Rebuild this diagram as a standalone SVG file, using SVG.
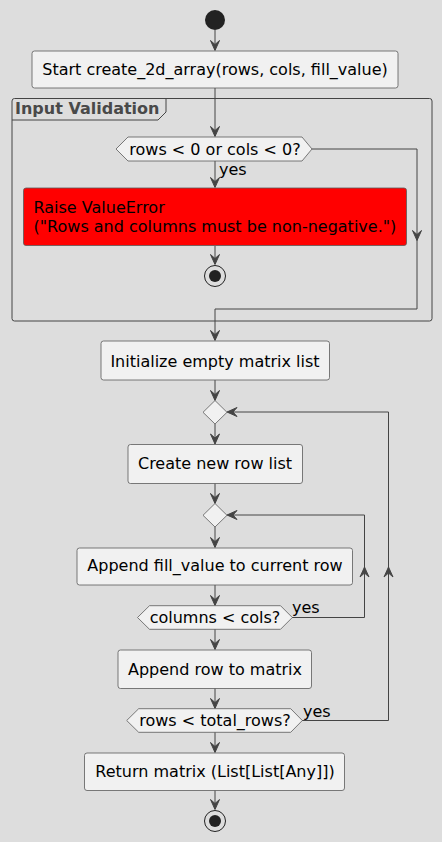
<svg xmlns="http://www.w3.org/2000/svg" width="442" height="842" viewBox="0 0 442 842">
<style>
.bg{fill:#DDDDDD}
.box{fill:#F1F1F1;stroke:#5A5A5A;stroke-width:0.8}
.t{font-family:"DejaVu Sans","Liberation Sans",sans-serif;font-size:16px;fill:#000000}
.c{text-anchor:middle}
.ln{fill:none;stroke:#444444;stroke-width:1}
.ah{fill:#444444;stroke:#444444;stroke-width:1}
.grp{fill:none;stroke:#444444;stroke-width:1}
.gt{font-family:"DejaVu Sans","Liberation Sans",sans-serif;font-size:16px;font-weight:bold;fill:#494949}
</style>
<defs>
<path id="ah" d="M0,0 L-4.5,-10 L0,-6 L4.5,-10 Z"/>
</defs>
<rect class="bg" x="0" y="0" width="442" height="842"/>

<g id="group-input-validation">
<rect class="grp" x="12" y="98.5" width="420" height="222.5" rx="2.5"/>
<path class="grp" d="M12,120 L158,120 L166,112 L166,98.5"/>
<text class="gt" x="15" y="114">Input Validation</text>
</g>

<g id="connectors">
<path class="ln" d="M215,30 V50"/>
<use href="#ah" class="ah" x="215" y="50.5"/>
<path class="ln" d="M215,88 V136"/>
<use href="#ah" class="ah" x="215" y="136.5"/>
<path class="ln" d="M215,161 V187"/>
<use href="#ah" class="ah" x="215" y="187.5"/>
<text class="t" x="219" y="175">yes</text>
<path class="ln" d="M215,246 V264"/>
<use href="#ah" class="ah" x="215" y="264.5"/>
<path class="ln" d="M312,149 H417 V309 H215 V340"/>
<use href="#ah" class="ah" x="417" y="240.5"/>
<use href="#ah" class="ah" x="215" y="340.5"/>
<path class="ln" d="M215,380 V400"/>
<use href="#ah" class="ah" x="215" y="400.5"/>
<path class="ln" d="M215,424 V444"/>
<use href="#ah" class="ah" x="215" y="444"/>
<path class="ln" d="M215,483 V503"/>
<use href="#ah" class="ah" x="215" y="503.5"/>
<path class="ln" d="M215,527 V547"/>
<use href="#ah" class="ah" x="215" y="547.5"/>
<path class="ln" d="M215,585 V605"/>
<use href="#ah" class="ah" x="215" y="605.5"/>
<path class="ln" d="M215,629 V649"/>
<use href="#ah" class="ah" x="215" y="649.5"/>
<path class="ln" d="M215,688 V708"/>
<use href="#ah" class="ah" x="215" y="708.5"/>
<path class="ln" d="M215,732 V752"/>
<use href="#ah" class="ah" x="215" y="752.5"/>
<path class="ln" d="M215,790 V809"/>
<use href="#ah" class="ah" x="215" y="809.5"/>
<path class="ln" d="M292,617.5 H364.5 V515 H228"/>
<use href="#ah" class="ah" transform="translate(227,515) rotate(90)"/>
<use href="#ah" class="ah" transform="translate(364.5,567) rotate(180)"/>
<text class="t" x="292" y="613">yes</text>
<path class="ln" d="M302,720.5 H388.5 V412 H228"/>
<use href="#ah" class="ah" transform="translate(227,412) rotate(90)"/>
<use href="#ah" class="ah" transform="translate(388.5,567) rotate(180)"/>
<text class="t" x="303" y="716.5">yes</text>
</g>

<g id="start">
<circle cx="215" cy="20" r="10" fill="#222222"/>
</g>

<g id="n-start-fn">
<rect class="box" x="32" y="51" width="366" height="37" rx="2.5"/>
<text class="t c" x="215" y="75">Start create_2d_array(rows, cols, fill_value)</text>
</g>

<g id="d-negative">
<polygon class="box" points="116,149 128,137 302,137 312,149 302,161 128,161"/>
<text class="t c" x="215" y="155">rows &lt; 0 or cols &lt; 0?</text>
</g>

<g id="n-raise">
<rect x="23.5" y="188" width="383" height="57.5" rx="2.5" fill="#FF0000" stroke="#5A5A5A" stroke-width="0.8"/>
<text class="t" x="33.5" y="212.5">Raise ValueError</text>
<text class="t" x="33.5" y="231.5">("Rows and columns must be non-negative.")</text>
</g>

<g id="stop-error">
<circle cx="215" cy="276" r="10.5" fill="none" stroke="#222222" stroke-width="1"/>
<circle cx="215" cy="276" r="6" fill="#222222"/>
</g>

<g id="n-init">
<rect class="box" x="101" y="341" width="228.5" height="39" rx="2.5"/>
<text class="t c" x="215" y="366.5">Initialize empty matrix list</text>
</g>

<g id="merge-rows">
<polygon class="box" points="215,400.5 227,412.3 215,424 203,412.3"/>
</g>

<g id="n-newrow">
<rect class="box" x="128" y="444.5" width="174.5" height="39" rx="2.5"/>
<text class="t c" x="215" y="468.5">Create new row list</text>
</g>

<g id="merge-cols">
<polygon class="box" points="215,503.5 227,515.3 215,527 203,515.3"/>
</g>

<g id="n-append-fill">
<rect class="box" x="77" y="548" width="275.5" height="37" rx="2.5"/>
<text class="t c" x="215" y="571">Append fill_value to current row</text>
</g>

<g id="d-cols">
<polygon class="box" points="137.5,617.5 149.5,605.7 280.5,605.7 292.3,617.5 280.5,629.3 149.5,629.3"/>
<text class="t c" x="215" y="623">columns &lt; cols?</text>
</g>

<g id="n-append-row">
<rect class="box" x="118" y="650" width="193.5" height="38.5" rx="2.5"/>
<text class="t c" x="215" y="675">Append row to matrix</text>
</g>

<g id="d-rows">
<polygon class="box" points="126.7,720.5 138.7,708.7 290.7,708.7 302.3,720.5 290.7,732.3 138.7,732.3"/>
<text class="t c" x="215" y="726">rows &lt; total_rows?</text>
</g>

<g id="n-return">
<rect class="box" x="84.5" y="753" width="260" height="37.5" rx="2.5"/>
<text class="t c" x="215" y="777">Return matrix (List[List[Any]])</text>
</g>

<g id="stop-end">
<circle cx="215" cy="821" r="10.5" fill="none" stroke="#222222" stroke-width="1"/>
<circle cx="215" cy="821" r="6" fill="#222222"/>
</g>
</svg>
